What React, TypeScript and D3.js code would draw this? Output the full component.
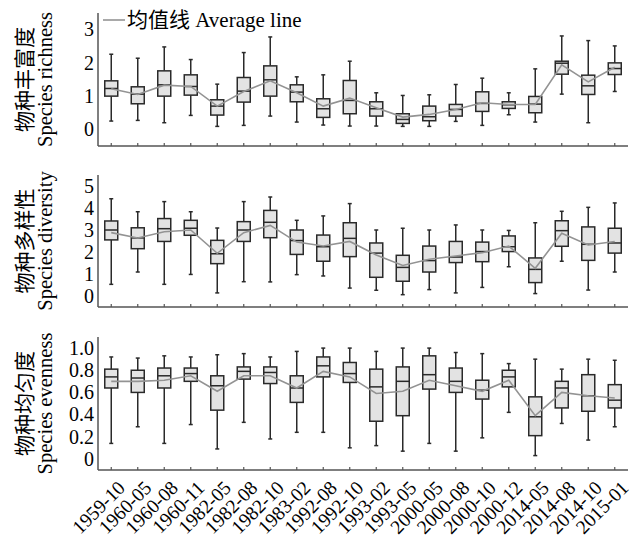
import React from 'react';
import * as d3 from 'd3';

const dates = ['1959-10', '1960-05', '1960-08', '1960-11', '1982-05', '1982-08', '1982-10', '1983-02', '1992-08', '1992-10',
  '1993-02', '1993-05', '2000-05', '2000-08', '2000-10', '2000-12', '2014-05', '2014-08', '2014-10', '2015-01'];

// species richness
const richLow = [0.25, 0.27, 0.2, 0.42, 0.09, 0.12, 0.4, 0.22, 0.13, 0.1, 0.1, 0.09, 0.09, 0.24, 0.12, 0.44, 0.22, 1.06, 0.2, 1.14];
const richQ1 = [1.0, 0.77, 1.0, 1.03, 0.43, 0.82, 1.0, 0.83, 0.36, 0.47, 0.4, 0.18, 0.26, 0.4, 0.54, 0.63, 0.5, 1.66, 1.05, 1.65];
const richMed = [1.23, 1.06, 1.34, 1.29, 0.7, 1.15, 1.49, 1.12, 0.62, 0.87, 0.62, 0.3, 0.38, 0.6, 0.78, 0.74, 0.76, 1.99, 1.31, 1.83];
const richQ3 = [1.46, 1.28, 1.76, 1.64, 0.89, 1.56, 1.91, 1.34, 0.92, 1.47, 0.83, 0.47, 0.7, 0.75, 1.13, 0.83, 0.99, 2.05, 1.63, 2.0];
const richHigh = [2.26, 2.14, 2.48, 2.1, 1.36, 2.31, 2.78, 1.58, 1.64, 2.05, 1.1, 1.02, 1.04, 1.35, 1.54, 1.1, 1.82, 2.81, 2.67, 2.51];
const richMean = [1.22, 1.05, 1.33, 1.29, 0.7, 1.14, 1.46, 1.1, 0.7, 0.94, 0.65, 0.37, 0.45, 0.6, 0.8, 0.75, 0.75, 1.94, 1.43, 1.87];

// species diversity
const divLow = [0.53, 1.09, 0.53, 0.98, 0.14, 0.65, 0.64, 0.97, 0.91, 0.36, 0.26, 0.06, 0.29, 0.14, 0.39, 1.33, 0.11, 1.58, 0.27, 1.09];
const divQ1 = [2.55, 2.15, 2.48, 2.76, 1.47, 2.48, 2.65, 1.89, 1.58, 1.79, 0.85, 0.67, 1.09, 1.52, 1.56, 2.02, 0.61, 2.26, 1.62, 1.95];
const divMed = [3.0, 2.64, 3.06, 3.08, 1.92, 3.0, 3.35, 2.52, 2.24, 2.62, 1.95, 1.3, 1.61, 1.77, 2.02, 2.24, 1.21, 2.97, 2.35, 2.41];
const divQ3 = [3.41, 3.1, 3.52, 3.44, 2.53, 3.38, 3.89, 3.0, 2.77, 3.33, 2.41, 1.85, 2.27, 2.48, 2.45, 2.73, 1.73, 3.42, 3.14, 3.08];
const divHigh = [4.42, 3.83, 4.29, 3.83, 3.09, 4.29, 4.5, 3.44, 3.64, 4.2, 3.0, 3.08, 3.0, 3.23, 3.0, 2.98, 3.33, 3.85, 4.03, 4.23];
const divMean = [2.88, 2.64, 2.92, 3.0, 1.94, 2.88, 3.21, 2.45, 2.27, 2.48, 1.86, 1.39, 1.67, 1.82, 1.97, 2.27, 1.26, 2.85, 2.32, 2.48];

// species evenness
const evenLow = [0.14, 0.29, 0.14, 0.31, 0.09, 0.33, 0.18, 0.24, 0.24, 0.1, 0.12, 0.07, 0.14, 0.07, 0.19, 0.42, 0.03, 0.32, 0.17, 0.29];
const evenQ1 = [0.64, 0.6, 0.64, 0.7, 0.44, 0.72, 0.68, 0.51, 0.74, 0.69, 0.34, 0.39, 0.63, 0.6, 0.54, 0.65, 0.21, 0.46, 0.43, 0.46];
const evenMed = [0.74, 0.73, 0.75, 0.77, 0.66, 0.79, 0.78, 0.64, 0.84, 0.77, 0.65, 0.7, 0.76, 0.7, 0.62, 0.74, 0.38, 0.64, 0.57, 0.53];
const evenQ3 = [0.81, 0.8, 0.82, 0.82, 0.75, 0.83, 0.83, 0.75, 0.92, 0.87, 0.81, 0.83, 0.93, 0.82, 0.71, 0.8, 0.56, 0.7, 0.76, 0.67];
const evenHigh = [0.92, 0.91, 0.93, 0.92, 0.94, 0.95, 0.92, 0.97, 1.0, 1.0, 0.97, 1.0, 1.0, 0.96, 0.95, 0.86, 0.9, 0.81, 0.9, 0.89];
const evenMean = [0.7, 0.7, 0.71, 0.75, 0.61, 0.75, 0.75, 0.64, 0.79, 0.74, 0.59, 0.61, 0.71, 0.66, 0.61, 0.71, 0.39, 0.6, 0.57, 0.55];

const richTicks = [0, 1, 2, 3];
const divTicks = [0, 1, 2, 3, 4, 5];
const evenTicks = [0, 0.2, 0.4, 0.6, 0.8, 1.0];

const width = 641;
const height = 541;
const left = 98;
const right = 628;
const font = '"Liberation Serif", "Times New Roman", "Noto Sans CJK SC", serif';
const axisColor = '#555';
const boxStroke = '#2a2a2a';

const panels = [
  { top: 13, bottom: 146, domain: [-0.5, 3.5], ticks: richTicks, fmt: (v: number) => String(v),
    cn: '物种丰富度', en: 'Species richness',
    low: richLow, q1: richQ1, med: richMed, q3: richQ3, high: richHigh, mean: richMean },
  { top: 175, bottom: 307, domain: [-0.5, 5.5], ticks: divTicks, fmt: (v: number) => String(v),
    cn: '物种多样性', en: 'Species diversity',
    low: divLow, q1: divQ1, med: divMed, q3: divQ3, high: divHigh, mean: divMean },
  { top: 337, bottom: 470, domain: [-0.1, 1.1], ticks: evenTicks, fmt: (v: number) => (v === 0 ? '0' : v.toFixed(1)),
    cn: '物种均匀度', en: 'Species evenness',
    low: evenLow, q1: evenQ1, med: evenMed, q3: evenQ3, high: evenHigh, mean: evenMean },
];

const x = d3.scaleBand<string>().domain(dates).range([left, right]);
const boxW = 13;
const capW = 4;

function Panel({ p, last }: { p: typeof panels[number]; last: boolean }) {
  const y = d3.scaleLinear().domain(p.domain).range([p.bottom, p.top]);
  const cx = (d: string) => (x(d) as number) + x.bandwidth() / 2;
  const meanLine = d3.line<number>()
    .x((_, i) => cx(dates[i]))
    .y(v => y(v));
  const midY = (p.top + p.bottom) / 2;

  return (
    <g>
      {/* boxes */}
      {dates.map((d, i) => {
        const c = cx(d);
        return (
          <g key={d} stroke={boxStroke} strokeWidth={1.5}>
            <line x1={c} x2={c} y1={y(p.high[i])} y2={y(p.q3[i])} />
            <line x1={c} x2={c} y1={y(p.q1[i])} y2={y(p.low[i])} />
            <line x1={c - capW / 2} x2={c + capW / 2} y1={y(p.high[i])} y2={y(p.high[i])} />
            <line x1={c - capW / 2} x2={c + capW / 2} y1={y(p.low[i])} y2={y(p.low[i])} />
            <rect x={c - boxW / 2} width={boxW} y={y(p.q3[i])} height={y(p.q1[i]) - y(p.q3[i])} fill="#e3e3e3" />
            <line x1={c - boxW / 2} x2={c + boxW / 2} y1={y(p.med[i])} y2={y(p.med[i])} />
          </g>
        );
      })}
      <path d={meanLine(p.mean) as string} fill="none" stroke="#939393" strokeWidth={1.6} />

      {/* axes */}
      <line x1={left} x2={left} y1={p.top} y2={p.bottom} stroke={axisColor} strokeWidth={1.5} />
      <line x1={left} x2={right} y1={p.bottom} y2={p.bottom} stroke={axisColor} strokeWidth={1.5} />
      {dates.map(d => (
        <line key={d} x1={cx(d)} x2={cx(d)} y1={p.bottom} y2={p.bottom - 3} stroke={axisColor} strokeWidth={1.2} />
      ))}
      {p.ticks.map(t => (
        <text key={t} x={left - 4} y={y(t)} dy="0.34em" textAnchor="end" fontSize={20} fontFamily={font}>
          {p.fmt(t)}
        </text>
      ))}

      {/* y labels */}
      <text transform={`translate(24,${midY}) rotate(-90)`} textAnchor="middle" fontSize={21}
        fontFamily='"Noto Sans CJK SC", sans-serif' dy="0.36em">{p.cn}</text>
      <text transform={`translate(52,${midY}) rotate(-90)`} textAnchor="middle" fontSize={20.5} fontFamily={font}>
        {p.en}
      </text>

      {last && dates.map(d => (
        <text key={d} transform={`translate(${cx(d) + 15},${p.bottom + 19}) rotate(-45)`} textAnchor="end"
          fontSize={19.5} fontFamily={font}>{d}</text>
      ))}
    </g>
  );
}

export default function App() {
  return (
    <svg width={width} height={height} style={{ position: 'fixed', left: 0, top: 0, background: '#fff' }}>
      {panels.map((p, i) => <Panel key={p.en} p={p} last={i === panels.length - 1} />)}
      <line x1={103} x2={125} y1={20} y2={20} stroke="#939393" strokeWidth={1.6} />
      <text x={127} y={27} fontSize={21} fontFamily={font}>均值线 Average line</text>
    </svg>
  );
}
